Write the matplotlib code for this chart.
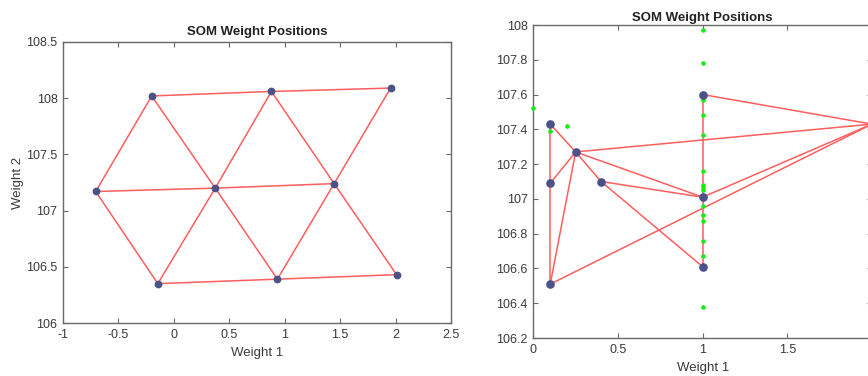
import matplotlib
matplotlib.use("Agg")
import matplotlib.pyplot as plt
from matplotlib.ticker import FixedLocator, FixedFormatter

plt.rcParams['font.family'] = ['Liberation Sans', 'DejaVu Sans']
plt.rcParams['axes.unicode_minus'] = False

# ---- Left chart data ----
left_w1 = [-0.20, 0.88, 1.955, -0.705, 0.373, 1.446, -0.145, 0.934, 2.009]
left_w2 = [108.02, 108.06, 108.09, 107.17, 107.20, 107.24, 106.35, 106.39, 106.43]
left_edges = [(0, 1), (1, 2), (3, 4), (4, 5), (6, 7), (7, 8),
              (3, 0), (0, 4), (4, 1), (1, 5), (5, 2),
              (3, 6), (6, 4), (4, 7), (7, 5), (5, 8)]
left_xticks = [-1, -0.5, 0, 0.5, 1, 1.5, 2, 2.5]
left_xticklabels = ['-1', '-0.5', '0', '0.5', '1', '1.5', '2', '2.5']
left_yticks = [106, 106.5, 107, 107.5, 108, 108.5]
left_yticklabels = ['106', '106.5', '107', '107.5', '108', '108.5']

# ---- Right chart data ----
right_w1 = [0.1, 0.1, 0.1, 0.25, 0.4, 1.0, 1.0, 1.0, 2.0]
right_w2 = [107.43, 107.09, 106.51, 107.27, 107.10, 107.60, 107.01, 106.61, 107.43]
right_edges = [(0, 1), (1, 2), (0, 3), (1, 3), (2, 3), (2, 8), (3, 8),
               (3, 4), (3, 6), (4, 6), (4, 7), (5, 6), (6, 7), (5, 8), (6, 8)]
data_x = [0, 0.1, 0.1, 0.2] + [1] * 16
data_y = [107.52, 107.43, 107.39, 107.42,
          107.97, 107.78, 107.57, 107.48, 107.37, 107.16, 107.08, 107.07,
          107.05, 106.96, 106.91, 106.87, 106.76, 106.67, 106.38, 107.00]
right_xticks = [0, 0.5, 1, 1.5, 2]
# the "2" label falls outside the cropped picture, so it is left blank
right_xticklabels = ['0', '0.5', '1', '1.5', '']
right_yticks = [106.2, 106.4, 106.6, 106.8, 107, 107.2, 107.4, 107.6, 107.8, 108]
right_yticklabels = ['106.2', '106.4', '106.6', '106.8', '107', '107.2',
                     '107.4', '107.6', '107.8', '108']

title = 'SOM Weight Positions'
line_color = '#ff5e5e'
node_color = '#4b5287'
data_color = '#11ee11'
spine_color = '#6a6a6a'
text_color = '#3a3a3a'

fig = plt.figure(figsize=(8.68, 3.76), dpi=100)
W, H = 868, 376


def px_axes(l, t, r, b):
    return fig.add_axes([l / W, 1 - b / H, (r - l) / W, (b - t) / H])


def style(ax, xt, xtl, yt, ytl, xlim, ylim, tpad):
    ax.set_xlim(*xlim)
    ax.set_ylim(*ylim)
    ax.xaxis.set_major_locator(FixedLocator(xt))
    ax.xaxis.set_major_formatter(FixedFormatter(xtl))
    ax.yaxis.set_major_locator(FixedLocator(yt))
    ax.yaxis.set_major_formatter(FixedFormatter(ytl))
    ax.tick_params(direction='in', length=3.5, width=0.8, colors=spine_color,
                   labelcolor=text_color, labelsize=9, top=True, right=True, pad=4)
    for s in ax.spines.values():
        s.set_color(spine_color)
        s.set_linewidth(1.0)
    ax.set_title(title, fontsize=9.5, fontweight='bold', color='#222222', pad=tpad)


# Left chart
ax1 = px_axes(63, 42, 451, 323)
for i, j in left_edges:
    ax1.plot([left_w1[i], left_w1[j]], [left_w2[i], left_w2[j]],
             color=line_color, lw=1.1, zorder=2)
ax1.plot(left_w1, left_w2, 'o', color=node_color, ms=4.6, zorder=3)
style(ax1, left_xticks, left_xticklabels, left_yticks, left_yticklabels,
      (-1, 2.5), (106, 108.5), 5)
ax1.set_xlabel('Weight 1', fontsize=9.5, color=text_color)
ax1.set_ylabel('Weight 2', fontsize=9.5, color=text_color)
ax1.xaxis.set_label_coords(0.5, -0.085)
ax1.yaxis.set_label_coords(-0.10, 0.5)

# Right chart (cropped at the figure's right edge)
ax2 = px_axes(533.3, 25, 872, 338)
for i, j in right_edges:
    ax2.plot([right_w1[i], right_w1[j]], [right_w2[i], right_w2[j]],
             color=line_color, lw=1.1, zorder=2)
ax2.plot(data_x, data_y, 'o', color=data_color, ms=2.3, zorder=3, clip_on=False)
ax2.plot(right_w1, right_w2, 'o', color=node_color, ms=5.2, zorder=4)
style(ax2, right_xticks, right_xticklabels, right_yticks, right_yticklabels,
      (0, 2), (106.2, 108), 3)
ax2.set_xlabel('Weight 1', fontsize=9.5, color=text_color)
ax2.xaxis.set_label_coords(0.5, -0.076)

fig.savefig('out.png', dpi=100)
